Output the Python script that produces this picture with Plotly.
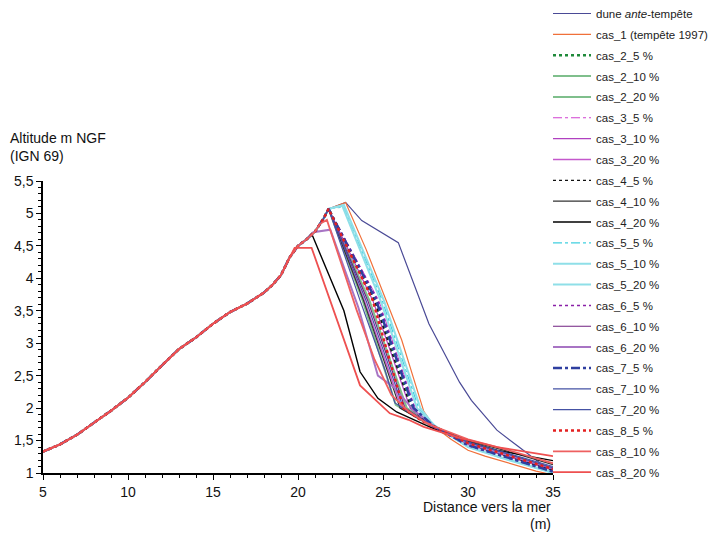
import plotly.graph_objects as go

# Shared dune profile (landward part)
X_PROFIL = [5, 6, 7, 8, 9, 10, 11, 12, 13, 14, 15, 16, 17, 18, 18.5, 19, 19.5, 20, 20.5, 21, 21.5]
Y_PROFIL = [1.33, 1.44, 1.59, 1.77, 1.96, 2.16, 2.40, 2.66, 2.91, 3.09, 3.30, 3.48, 3.61, 3.78, 3.90, 4.05, 4.32, 4.50, 4.60, 4.72, 4.92]

# Seaward parts: profile used for x below first tail x
ante_x = [21.8, 22.8, 23.75, 25.9, 27.7, 29.5, 30.2, 31.7, 33, 34.6, 35]
ante_y = [5.07, 5.17, 4.89, 4.55, 3.30, 2.40, 2.12, 1.66, 1.40, 1.08, 1.04]
cas1_x = [21.8, 22.8, 24, 25.2, 26.1, 27.4, 28, 29, 30, 31, 32, 33, 34, 35]
cas1_y = [5.07, 5.17, 4.45, 3.66, 3.05, 1.95, 1.72, 1.52, 1.35, 1.26, 1.18, 1.10, 1.03, 0.97]
cas2_5_x = [21.8, 24.5, 26.7, 27.5, 28, 30, 32, 35]
cas2_5_y = [5.07, 3.66, 2.00, 1.82, 1.72, 1.44, 1.27, 1.03]
cas2_10_x = [21.8, 24.2, 26.4, 27.4, 28, 30, 32, 35]
cas2_10_y = [5.07, 3.66, 2.00, 1.82, 1.72, 1.45, 1.29, 1.05]
cas2_20_x = [21.8, 23.8, 25.75, 27, 28, 29, 30, 32, 35]
cas2_20_y = [5.07, 3.66, 2.05, 1.85, 1.70, 1.58, 1.46, 1.30, 1.06]
cas3_5_x = [21.8, 24.75, 26.9, 27.6, 28, 30, 32, 35]
cas3_5_y = [5.07, 3.66, 2.00, 1.80, 1.72, 1.43, 1.26, 1.02]
cas3_10_x = [21.8, 24.4, 26.6, 27.5, 28, 30, 32, 35]
cas3_10_y = [5.07, 3.66, 2.00, 1.81, 1.71, 1.45, 1.29, 1.05]
cas3_20_x = [21.8, 23.9, 26.1, 27.2, 28, 30, 32, 35]
cas3_20_y = [5.07, 3.66, 2.00, 1.83, 1.70, 1.44, 1.28, 1.05]
cas4_5_x = [21.8, 24.5, 25.3, 26.1, 26.65, 27.5, 28, 30, 32, 35]
cas4_5_y = [5.07, 3.66, 3.02, 2.40, 2.00, 1.80, 1.71, 1.44, 1.28, 1.04]
cas4_10_x = [21.8, 23.85, 26.0, 27.2, 28, 30, 32, 35]
cas4_10_y = [5.07, 3.66, 2.00, 1.82, 1.72, 1.50, 1.36, 1.13]
cas4_20_x = [20.8, 22.7, 23.65, 24.7, 25.8, 27, 28, 29.5, 31.7, 35]
cas4_20_y = [4.69, 3.50, 2.56, 2.15, 1.94, 1.80, 1.68, 1.52, 1.35, 1.19]
cas5_5_x = [21.8, 22.7, 24.95, 27.1, 27.7, 28, 30, 32, 35]
cas5_5_y = [5.07, 5.10, 3.66, 2.00, 1.80, 1.72, 1.40, 1.23, 1.00]
cas5_10_x = [21.8, 22.7, 25.05, 27.2, 27.8, 28, 30, 32, 35]
cas5_10_y = [5.07, 5.13, 3.66, 2.00, 1.80, 1.74, 1.40, 1.23, 1.00]
cas5_20_x = [21.8, 22.6, 24.85, 27.0, 27.7, 28, 30, 32, 35]
cas5_20_y = [5.07, 5.12, 3.66, 2.00, 1.80, 1.73, 1.41, 1.24, 1.01]
cas6_5_x = [21.8, 24.7, 26.85, 27.6, 28, 30, 32, 35]
cas6_5_y = [5.07, 3.66, 2.00, 1.80, 1.71, 1.42, 1.26, 1.02]
cas6_10_x = [21.8, 24.1, 26.3, 27.3, 28, 30, 32, 35]
cas6_10_y = [5.07, 3.66, 2.00, 1.83, 1.71, 1.46, 1.31, 1.07]
cas6_20_x = [20.9, 21.9, 23.55, 24.7, 25.6, 26.8, 28, 30, 32, 35]
cas6_20_y = [4.71, 4.75, 3.55, 2.50, 2.33, 1.97, 1.72, 1.45, 1.30, 1.08]
cas7_5_x = [21.8, 24.6, 26.8, 27.6, 28, 30, 32, 35]
cas7_5_y = [5.07, 3.66, 2.00, 1.81, 1.72, 1.43, 1.27, 1.02]
cas7_10_x = [21.8, 24.0, 26.2, 27.3, 28, 30, 32, 35]
cas7_10_y = [5.07, 3.66, 2.00, 1.82, 1.72, 1.47, 1.33, 1.10]
cas7_20_x = [21.8, 23.65, 25.1, 25.7, 27, 28, 29, 30, 32, 35]
cas7_20_y = [5.07, 3.66, 2.60, 2.08, 1.86, 1.72, 1.60, 1.48, 1.32, 1.08]
cas8_5_x = [21.8, 24.4, 24.8, 25.7, 26.2, 27.3, 28, 30, 32, 35]
cas8_5_y = [5.07, 3.66, 3.28, 2.48, 2.00, 1.80, 1.72, 1.46, 1.30, 1.06]
cas8_10_x = [21.3, 21.7, 23.45, 24.5, 25.5, 26.5, 27.5, 28, 30, 32, 35]
cas8_10_y = [4.84, 4.90, 3.51, 2.75, 2.20, 1.95, 1.78, 1.72, 1.52, 1.38, 1.15]
cas8_20_x = [19.8, 20.8, 22.1, 23.65, 25.4, 26.5, 27.4, 28, 29.5, 31.7, 35]
cas8_20_y = [4.47, 4.47, 3.50, 2.35, 1.92, 1.82, 1.71, 1.66, 1.54, 1.40, 1.26]

NAMES = ["dune <i>ante</i>-tempête", "cas_1 (tempête 1997)",
         "cas_2_5 %", "cas_2_10 %", "cas_2_20 %",
         "cas_3_5 %", "cas_3_10 %", "cas_3_20 %",
         "cas_4_5 %", "cas_4_10 %", "cas_4_20 %",
         "cas_5_5 %", "cas_5_10 %", "cas_5_20 %",
         "cas_6_5 %", "cas_6_10 %", "cas_6_20 %",
         "cas_7_5 %", "cas_7_10 %", "cas_7_20 %",
         "cas_8_5 %", "cas_8_10 %", "cas_8_20 %"]
TAILS = [(ante_x, ante_y), (cas1_x, cas1_y),
         (cas2_5_x, cas2_5_y), (cas2_10_x, cas2_10_y), (cas2_20_x, cas2_20_y),
         (cas3_5_x, cas3_5_y), (cas3_10_x, cas3_10_y), (cas3_20_x, cas3_20_y),
         (cas4_5_x, cas4_5_y), (cas4_10_x, cas4_10_y), (cas4_20_x, cas4_20_y),
         (cas5_5_x, cas5_5_y), (cas5_10_x, cas5_10_y), (cas5_20_x, cas5_20_y),
         (cas6_5_x, cas6_5_y), (cas6_10_x, cas6_10_y), (cas6_20_x, cas6_20_y),
         (cas7_5_x, cas7_5_y), (cas7_10_x, cas7_10_y), (cas7_20_x, cas7_20_y),
         (cas8_5_x, cas8_5_y), (cas8_10_x, cas8_10_y), (cas8_20_x, cas8_20_y)]
COLORS = ["#4a4a96", "#f0703a",
          "#1f8a3a", "#7fbf8c", "#7fbf8c",
          "#d040d0", "#b040c0", "#c458cc",
          "#111111", "#333333", "#000000",
          "#40cfe0", "#8fdfe8", "#8fdfe8",
          "#8a20a8", "#702080", "#a874c4",
          "#2f3fa0", "#4552a4", "#4552a4",
          "#e42020", "#ee6060", "#ee5050"]
WIDTHS = [1.2, 1.2, 2.5, 2, 2, 1, 1.2, 1.5, 1.2, 1.2, 1.4, 1.2, 2, 2, 1.5, 1.2, 2, 2.5, 1.2, 1.2, 2.5, 1.8, 1.8]
DASHES = ["solid", "solid", "dot", "solid", "solid", "dashdot", "solid", "solid", "3px,3px", "solid", "solid",
          "dashdot", "solid", "solid", "3px,3px", "solid", "solid", "dashdot", "solid", "solid", "dot", "solid", "solid"]

fig = go.Figure()
for i, (name, (tx, ty)) in enumerate(zip(NAMES, TAILS)):
    xs = [x for x in X_PROFIL if x < tx[0]] + tx
    ys = [y for x, y in zip(X_PROFIL, Y_PROFIL) if x < tx[0]] + ty
    fig.add_trace(go.Scatter(x=xs, y=ys, mode="lines", name=name, legendgroup=str(i),
                             line=dict(color=COLORS[i], width=WIDTHS[i], dash=DASHES[i])))

# page body has an 8px margin: figure drawn at 710x525 offset by 8px
W, H = 710, 525
L, T = 35, 173
PW, PH = 510, 292
fig.update_layout(
    width=W, height=H,
    margin=dict(l=L, r=W - L - PW, t=T, b=H - T - PH, autoexpand=False),
    paper_bgcolor="white", plot_bgcolor="white",
    separators=", ",
    font=dict(family="Liberation Sans, Arial, sans-serif", size=14, color="#111"),
    showlegend=True,
    legend=dict(x=(540 - L) / PW, xref="paper", xanchor="left",
                y=1 + (T + 9) / PH, yanchor="top", yref="paper",
                font=dict(size=11.5, color="#222"), bgcolor="rgba(0,0,0,0)",
                tracegroupgap=1.85, itemwidth=38, maxheight=1.0),
    xaxis=dict(range=[5, 35], dtick=5, tick0=5, showgrid=False, zeroline=False,
               showline=True, linecolor="black", linewidth=1.5,
               ticks="outside", ticklen=5, tickcolor="black", tickwidth=1.2,
               minor=dict(dtick=1, ticks="outside", ticklen=3, tickcolor="black"),
               tickfont=dict(size=14)),
    yaxis=dict(range=[1, 5.5], dtick=0.5, tick0=1, showgrid=False, zeroline=False,
               showline=True, linecolor="black", linewidth=1.5,
               ticks="outside", ticklen=5, tickcolor="black", tickwidth=1.2,
               minor=dict(dtick=0.1, ticks="outside", ticklen=3, tickcolor="black"),
               tickfont=dict(size=14)),
    annotations=[
        dict(text="Altitude m NGF", xref="paper", yref="paper", x=(8 - 8 - L) / PW, y=(465 - 129.5) / PH,
             xanchor="left", yanchor="middle", showarrow=False, font=dict(size=14)),
        dict(text="(IGN 69)", xref="paper", yref="paper", x=(8 - 8 - L) / PW, y=(465 - 147.5) / PH,
             xanchor="left", yanchor="middle", showarrow=False, font=dict(size=14)),
        dict(text="Distance vers la mer", xref="paper", yref="paper", x=1, y=(465 - 499) / PH,
             xanchor="right", yanchor="middle", showarrow=False, font=dict(size=14)),
        dict(text="(m)", xref="paper", yref="paper", x=1, y=(465 - 516) / PH,
             xanchor="right", yanchor="middle", showarrow=False, font=dict(size=14)),
    ],
)
fig.write_html("out.html")
